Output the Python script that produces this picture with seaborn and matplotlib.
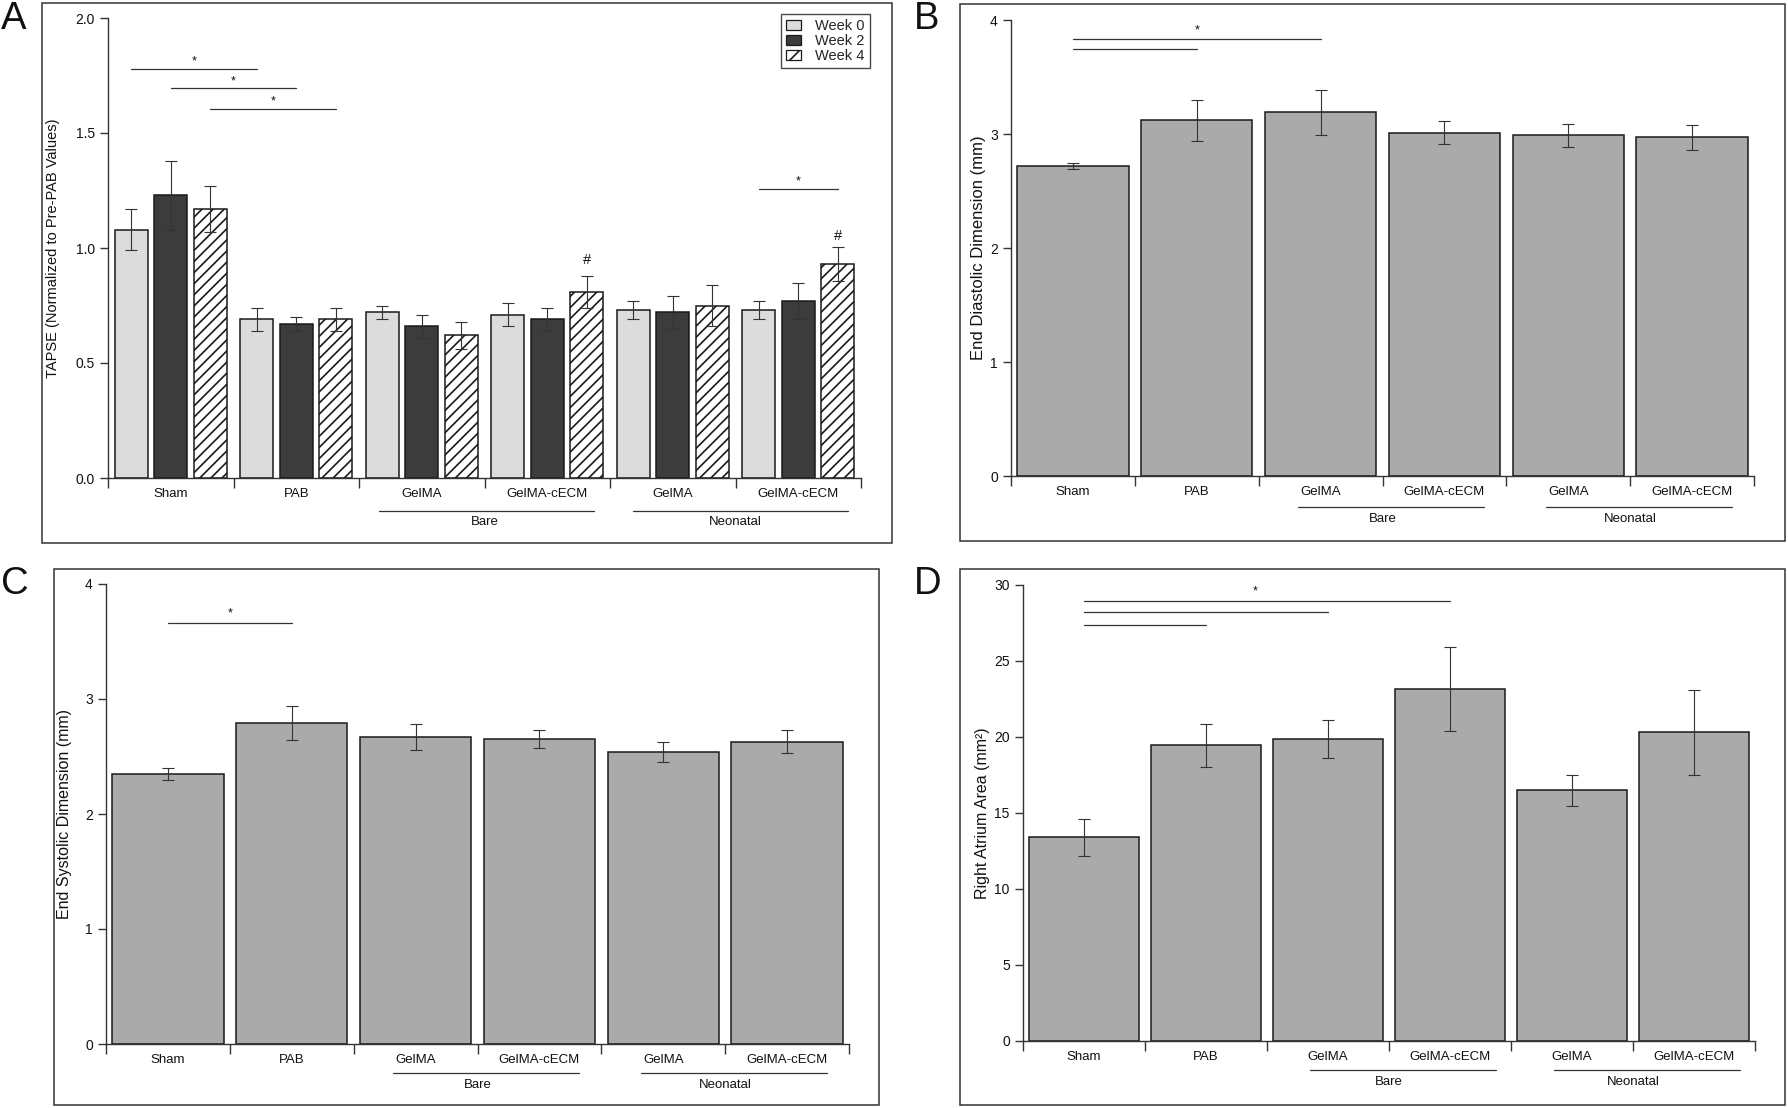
import numpy as np
import pandas as pd
import matplotlib
matplotlib.use("Agg")
import matplotlib.pyplot as plt
import matplotlib.transforms as mtransforms
from matplotlib.patches import Patch, Rectangle
from matplotlib.ticker import FormatStrFormatter
import seaborn as sns

W, H = 1788, 1108

categories = ["Sham", "PAB", "GelMA", "GelMA-cECM", "GelMA", "GelMA-cECM"]
keys = ["Sham", "PAB", "Bare GelMA", "Bare GelMA-cECM", "Neo GelMA", "Neo GelMA-cECM"]
weeks = ["Week 0", "Week 2", "Week 4"]

# panel A - TAPSE normalized to pre-PAB, one list per week
tapse_w0 = [1.08, 0.69, 0.72, 0.71, 0.73, 0.73]
tapse_w2 = [1.23, 0.67, 0.66, 0.69, 0.72, 0.77]
tapse_w4 = [1.17, 0.69, 0.62, 0.81, 0.75, 0.93]
tapse_w0_err = [0.09, 0.05, 0.03, 0.05, 0.04, 0.04]
tapse_w2_err = [0.15, 0.03, 0.05, 0.05, 0.07, 0.08]
tapse_w4_err = [0.10, 0.05, 0.06, 0.07, 0.09, 0.075]

# panels B-D
edd = [2.72, 3.12, 3.19, 3.01, 2.99, 2.97]
edd_err = [0.03, 0.18, 0.20, 0.10, 0.10, 0.11]
esd = [2.35, 2.79, 2.67, 2.65, 2.54, 2.63]
esd_err = [0.05, 0.15, 0.11, 0.08, 0.09, 0.10]
ra_area = [13.4, 19.45, 19.9, 23.15, 16.5, 20.3]
ra_area_err = [1.2, 1.43, 1.25, 2.75, 1.03, 2.8]

INK = "#333333"

sns.set_style("ticks")
plt.rcParams["font.family"] = ["Liberation Sans", "DejaVu Sans"]
plt.rcParams["axes.linewidth"] = 1.0
plt.rcParams["axes.edgecolor"] = INK
plt.rcParams["hatch.linewidth"] = 1.2
plt.rcParams["xtick.color"] = INK
plt.rcParams["ytick.color"] = INK


def px_rect(l, t, r, b):
    return [l / W, 1 - b / H, (r - l) / W, (b - t) / H]


def style_axis(ax, ymax, step, fmt, ylabel, labelpad, ylabel_size):
    sns.despine(ax=ax)
    ax.set_xlim(-0.5, 5.5)
    ax.set_ylim(0, ymax)
    ax.set_yticks(np.arange(0, ymax + step / 2, step))
    ax.yaxis.set_major_formatter(FormatStrFormatter(fmt))
    # boundary ticks between groups, labels sit on minor ticks at the centres
    ax.set_xticks(np.arange(-0.5, 6, 1))
    ax.set_xticklabels([])
    ax.set_xticks(np.arange(6), minor=True)
    ax.set_xticklabels(categories, minor=True, fontsize=9.5, color="#111")
    ax.tick_params(axis="x", which="major", length=7, width=1.0, direction="out")
    ax.tick_params(axis="x", which="minor", length=0, pad=7)
    ax.tick_params(axis="y", length=6, width=1.0, labelsize=10, labelcolor="#111")
    ax.set_xlabel("")
    ax.set_ylabel(ylabel, fontsize=ylabel_size, labelpad=labelpad, color="#111")


def group_lines(ax, spans, y_line, y_text):
    trans = mtransforms.blended_transform_factory(ax.transData, ax.transAxes)
    for (x0, x1), xt, name in zip(spans, [2.5, 4.5], ["Bare", "Neonatal"]):
        ax.plot([x0, x1], [y_line, y_line], color=INK, lw=0.9, transform=trans, clip_on=False)
        ax.text(xt, y_text, name, transform=trans, ha="center", va="center", fontsize=9.5, color="#111")


def sig_line(ax, x0, x1, y, ystar=None, xstar=None, mark="*"):
    ax.plot([x0, x1], [y, y], color=INK, lw=0.9)
    if ystar is not None:
        xs = (x0 + x1) / 2 if xstar is None else xstar
        ax.text(xs, ystar, mark, ha="center", va="center", fontsize=9, color="#111")


def single_panel(ax, vals, errs):
    sns.barplot(x=keys, y=vals, order=keys, color="#aaaaaa", saturation=1, width=0.9,
                edgecolor="#1a1a1a", linewidth=1.1, errorbar=None, ax=ax)
    cont = ax.containers[0]
    xs = [b.get_x() + b.get_width() / 2 for b in cont]
    hs = [b.get_height() for b in cont]
    ax.errorbar(xs, hs, yerr=errs, fmt="none", ecolor=INK, elinewidth=0.8,
                capsize=4.5, capthick=0.8)


fig = plt.figure(figsize=(W / 100, H / 100), dpi=100)

# panel frames
for l, t, r, b in [(42, 3, 892, 543), (960, 4, 1785, 541), (54, 569, 879, 1105), (960, 569, 1785, 1105)]:
    fig.add_artist(Rectangle((l / W, 1 - b / H), (r - l) / W, (b - t) / H,
                             transform=fig.transFigure, fill=False, ec=INK, lw=1.1))

for letter, x, y in [("A", 1, 1), ("B", 914, 1), ("C", 1, 566), ("D", 914, 566)]:
    fig.text(x / W, 1 - y / H, letter, ha="left", va="top", fontsize=27.5, color="#111")

# ---- A
axA = fig.add_axes(px_rect(108, 18, 861, 478))
df_a = pd.DataFrame({
    "group": keys * 3,
    "week": np.repeat(weeks, 6),
    "value": tapse_w0 + tapse_w2 + tapse_w4,
})
sns.barplot(data=df_a, x="group", y="value", hue="week", order=keys, hue_order=weeks,
            palette=["#dcdcdc", "#3c3c3c", "#ffffff"], saturation=1, width=0.945, gap=0.16,
            edgecolor="#1a1a1a", linewidth=1.1, errorbar=None, legend=False, ax=axA)
for b in axA.containers[2]:
    b.set_hatch("///")
centers = []
for cont, e in zip(axA.containers, [tapse_w0_err, tapse_w2_err, tapse_w4_err]):
    xs = [b.get_x() + b.get_width() / 2 for b in cont]
    hs = [b.get_height() for b in cont]
    centers.append(xs)
    axA.errorbar(xs, hs, yerr=e, fmt="none", ecolor=INK, elinewidth=0.8, capsize=4.5, capthick=0.8)

style_axis(axA, 2.0, 0.5, "%.1f", "TAPSE (Normalized to Pre-PAB Values)", 11, 10.5)
group_lines(axA, [(1.66, 3.37), (3.68, 5.40)], -0.072, -0.096)

sig_line(axA, centers[0][0], centers[0][1], 1.778, 1.812)
sig_line(axA, centers[1][0], centers[1][1], 1.694, 1.726)
sig_line(axA, centers[2][0], centers[2][1], 1.604, 1.636)
sig_line(axA, centers[0][5], centers[2][5], 1.255, 1.29)
axA.text(centers[2][3], 0.95, "#", ha="center", va="center", fontsize=10.5, color="#111")
axA.text(centers[2][5], 1.05, "#", ha="center", va="center", fontsize=10.5, color="#111")

handles = [Patch(fc="#dcdcdc", ec="#1a1a1a", lw=0.9),
           Patch(fc="#3c3c3c", ec="#1a1a1a", lw=0.9),
           Patch(fc="#ffffff", ec="#1a1a1a", lw=0.9, hatch="//")]
leg = axA.legend(handles, weeks, loc="upper right", bbox_to_anchor=(1.012, 1.009),
                 borderaxespad=0, fontsize=10.5, frameon=True, fancybox=False,
                 labelspacing=0.08, handlelength=1.0, handleheight=0.7,
                 handletextpad=1.0, borderpad=0.35)
leg.get_frame().set_edgecolor("#1a1a1a")
leg.get_frame().set_linewidth(1.0)

# ---- B
axB = fig.add_axes(px_rect(1011, 20, 1754, 476))
single_panel(axB, edd, edd_err)
style_axis(axB, 4, 1, "%d", "End Diastolic Dimension (mm)", 3, 12)
group_lines(axB, [(1.82, 3.32), (3.82, 5.32)], -0.068, -0.094)
sig_line(axB, 0, 2, 3.83, 3.91)
sig_line(axB, 0, 1, 3.75)

# ---- C
axC = fig.add_axes(px_rect(106, 584, 849, 1044))
single_panel(axC, esd, esd_err)
style_axis(axC, 4, 1, "%d", "End Systolic Dimension (mm)", 9, 11.5)
group_lines(axC, [(1.82, 3.32), (3.82, 5.32)], -0.064, -0.09)
sig_line(axC, 0, 1, 3.665, 3.745)

# ---- D
axD = fig.add_axes(px_rect(1023, 585, 1755, 1041))
single_panel(axD, ra_area, ra_area_err)
style_axis(axD, 30, 5, "%d", "Right Atrium Area (mm\u00b2)", 3, 11.5)
group_lines(axD, [(1.85, 3.38), (3.85, 5.38)], -0.064, -0.09)
sig_line(axD, 0, 3, 28.95, 29.6, xstar=1.4)
sig_line(axD, 0, 2, 28.2)
sig_line(axD, 0, 1, 27.4)

fig.savefig("out.png", dpi=100)
